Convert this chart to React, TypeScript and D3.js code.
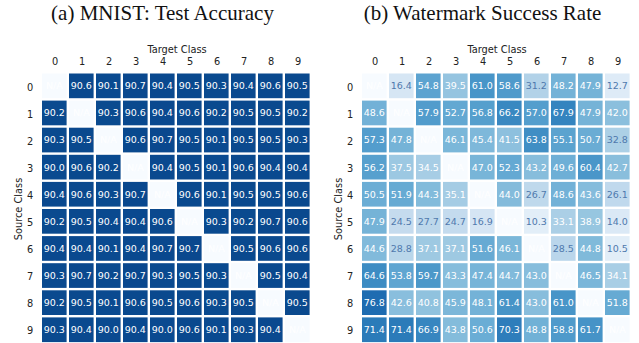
import React from "react";
import * as d3 from "d3";

const classes = ["0", "1", "2", "3", "4", "5", "6", "7", "8", "9"];

// Test accuracy (%) per source/target pair; diagonal is undefined (N/A)
const accuracyRows: (number | null)[][] = [
  [null, 90.6, 90.1, 90.7, 90.4, 90.5, 90.3, 90.4, 90.6, 90.5],
  [90.2, null, 90.3, 90.6, 90.4, 90.6, 90.2, 90.5, 90.5, 90.2],
  [90.3, 90.5, null, 90.6, 90.7, 90.5, 90.1, 90.5, 90.5, 90.3],
  [90.0, 90.6, 90.2, null, 90.4, 90.5, 90.1, 90.6, 90.4, 90.4],
  [90.4, 90.6, 90.3, 90.7, null, 90.6, 90.1, 90.5, 90.5, 90.6],
  [90.2, 90.5, 90.4, 90.4, 90.6, null, 90.3, 90.2, 90.7, 90.6],
  [90.4, 90.4, 90.1, 90.4, 90.7, 90.7, null, 90.5, 90.6, 90.6],
  [90.3, 90.7, 90.2, 90.7, 90.3, 90.5, 90.3, null, 90.5, 90.4],
  [90.2, 90.5, 90.1, 90.6, 90.5, 90.6, 90.3, 90.5, null, 90.5],
  [90.3, 90.4, 90.0, 90.4, 90.0, 90.6, 90.1, 90.3, 90.4, null],
];

// Watermark success rate (%) per source/target pair
const watermarkRows: (number | null)[][] = [
  [null, 16.4, 54.8, 39.5, 61.0, 58.6, 31.2, 48.2, 47.9, 12.7],
  [48.6, null, 57.9, 52.7, 56.8, 66.2, 57.0, 67.9, 47.9, 42.0],
  [57.3, 47.8, null, 46.1, 45.4, 41.5, 63.8, 55.1, 50.7, 32.8],
  [56.2, 37.5, 34.5, null, 47.0, 52.3, 43.2, 49.6, 60.4, 42.7],
  [50.5, 51.9, 44.3, 35.1, null, 44.0, 26.7, 48.6, 43.6, 26.1],
  [47.9, 24.5, 27.7, 24.7, 16.9, null, 10.3, 33.1, 38.9, 14.0],
  [44.6, 28.8, 37.1, 37.1, 51.6, 46.1, null, 28.5, 44.8, 10.5],
  [64.6, 53.8, 59.7, 43.3, 47.4, 44.7, 43.0, null, 46.5, 34.1],
  [76.8, 42.6, 40.8, 45.9, 48.1, 61.4, 43.0, 61.0, null, 51.8],
  [71.4, 71.4, 66.9, 43.8, 50.6, 70.3, 48.8, 58.8, 61.7, null],
];

const panelTitles = ["(a) MNIST: Test Accuracy", "(b) Watermark Success Rate"];

const color = d3.scaleSequential(d3.interpolateBlues).domain([0, 100]);
const sans = "'DejaVu Sans', sans-serif";

function Heatmap({ rows, title, offsetX }: { rows: (number | null)[][]; title: string; offsetX: number }) {
  const x = d3.scaleBand<string>().domain(classes).range([offsetX + 42, offsetX + 312]);
  const y = d3.scaleBand<string>().domain(classes).range([73.5, 344.5]);
  const gap = 2.4;
  const cx = (offsetX + 42 + offsetX + 312) / 2;
  return (
    <g>
      <text x={cx - 14.5} y={20} textAnchor="middle" fontFamily="'Liberation Serif', 'Times New Roman', serif" fontSize={21} fill="#111">
        {title}
      </text>
      <text x={cx} y={52.5} textAnchor="middle" fontFamily={sans} fontSize={9.8} fill="#222">
        Target Class
      </text>
      {classes.map((c) => (
        <text key={"xt" + c} x={x(c)! + x.bandwidth() / 2 - 0.5} y={64.5} textAnchor="middle" fontFamily={sans} fontSize={9.8} fill="#222">
          {c}
        </text>
      ))}
      {classes.map((c) => (
        <text key={"yt" + c} x={offsetX + 30} y={y(c)! + y.bandwidth() / 2 + 3.5} textAnchor="middle" fontFamily={sans} fontSize={9.8} fill="#222">
          {c}
        </text>
      ))}
      <text
        transform={`translate(${offsetX + 22},${(73.5 + 344.5) / 2}) rotate(-90)`}
        textAnchor="middle"
        fontFamily={sans}
        fontSize={9.8}
        fill="#222"
      >
        Source Class
      </text>
      {rows.map((row, i) =>
        row.map((v, j) => {
          const rx = x(classes[j])!;
          const ry = y(classes[i])!;
          const val = v ?? 0;
          const label = v == null ? "N/A" : v.toFixed(1);
          const textFill = v == null || val >= 33 ? "#ffffff" : "#4f79ad";
          return (
            <g key={`c${i}-${j}`}>
              <rect x={rx} y={ry} width={x.bandwidth() - gap} height={y.bandwidth() - gap} fill={color(val)} />
              <text
                x={rx + (x.bandwidth() - gap) / 2}
                y={ry + (y.bandwidth() - gap) / 2 + 3.4}
                textAnchor="middle"
                fontFamily={sans}
                fontSize={9.5}
                fill={textFill}
              >
                {label}
              </text>
            </g>
          );
        })
      )}
    </g>
  );
}

export default function App() {
  return (
    <svg
      width={639}
      height={343}
      style={{ position: "absolute", left: 0, top: 0, background: "#fff" }}
    >
      <rect width={639} height={343} fill="#fff" />
      <Heatmap rows={accuracyRows} title={panelTitles[0]} offsetX={0} />
      <Heatmap rows={watermarkRows} title={panelTitles[1]} offsetX={320} />
    </svg>
  );
}
